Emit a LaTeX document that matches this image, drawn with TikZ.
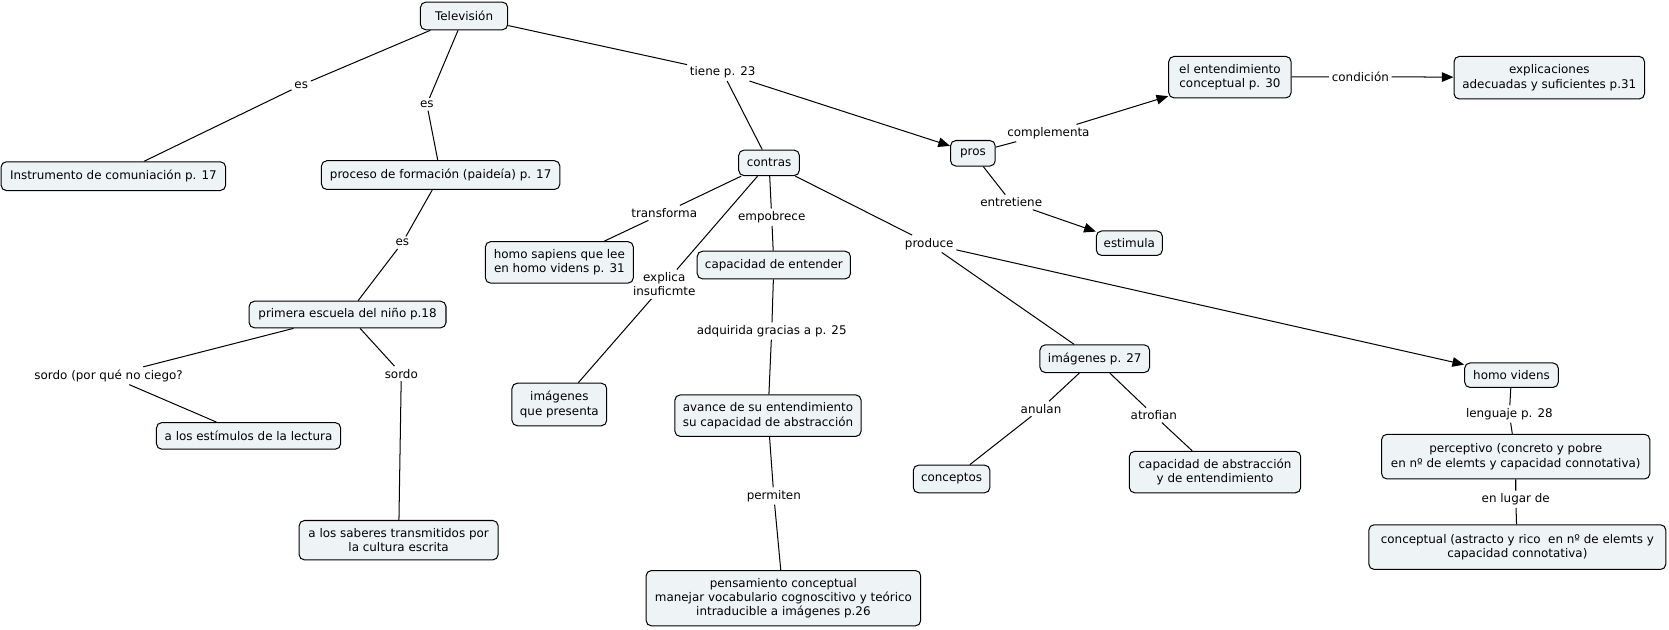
\documentclass[tikz,border=0pt]{standalone}
\usepackage{fontspec}
\setmainfont{DejaVu Sans}
\usetikzlibrary{arrows.meta}
\definecolor{boxfill}{RGB}{238,243,245}
\begin{document}
\begin{tikzpicture}[x=1pt,y=-1pt,
 concept/.style={draw=black, fill=boxfill, rounded corners=5pt, line width=0.95pt, align=center, inner xsep=4pt, inner ysep=0pt, font=\fontsize{11.2}{13.5}\selectfont},
 lbl/.style={align=center, inner sep=2.5pt, font=\fontsize{11.2}{13.5}\selectfont},
 link/.style={line width=0.95pt},
 arr/.style={line width=0.95pt, -{Triangle[length=11pt,width=9pt]}}
]
\useasboundingbox (0,0) rectangle (1568,591);
% concepts
\node[concept, minimum width=82pt, minimum height=26pt] (tv) at (436,15) {Televisión};
\node[concept, minimum width=211pt, minimum height=27pt] (inst) at (106.5,165.5) {Instrumento de comuniación p. 17};
\node[concept, minimum width=224pt, minimum height=27pt] (proc) at (414,164.5) {proceso de formación (paideía) p. 17};
\node[concept, minimum width=57pt, minimum height=24pt] (contras) at (722.5,153) {contras};
\node[concept, minimum width=42pt, minimum height=24pt] (pros) at (914,144) {pros};
\node[concept, minimum width=115pt, minimum height=39pt] (ent) at (1155.5,72.5) {el entendimiento\\conceptual p. 30};
\node[concept, minimum width=179pt, minimum height=40pt] (expl) at (1455.5,73) {explicaciones\\adecuadas y suficientes p.31};
\node[concept, minimum width=62pt, minimum height=23pt] (estim) at (1061,228.5) {estimula};
\node[concept, minimum width=139pt, minimum height=39pt] (homosap) at (525.5,246.5) {homo sapiens que lee\\en homo videns p. 31};
\node[concept, minimum width=144pt, minimum height=26pt] (capent) at (727,249) {capacidad de entender};
\node[concept, minimum width=185pt, minimum height=25pt] (primera) at (326.5,295.5) {primera escuela del niño p.18};
\node[concept, minimum width=89pt, minimum height=40pt] (imgpres) at (525.5,380) {imágenes\\que presenta};
\node[concept, minimum width=175pt, minimum height=39pt] (avance) at (721.5,390.5) {avance de su entendimiento\\su capacidad de abstracción};
\node[concept, minimum width=103pt, minimum height=26pt] (img27) at (1028.5,337) {imágenes p. 27};
\node[concept, minimum width=88pt, minimum height=23pt] (homovid) at (1420,352.5) {homo videns};
\node[concept, minimum width=173pt, minimum height=25pt] (estimulos) at (233.5,409.5) {a los estímulos de la lectura};
\node[concept, minimum width=72pt, minimum height=26pt] (concep) at (894,450) {conceptos};
\node[concept, minimum width=161pt, minimum height=39pt] (capabs) at (1141.5,443.5) {capacidad de abstracción\\y de entendimiento};
\node[concept, minimum width=252pt, minimum height=42pt] (percep) at (1424,429) {perceptivo (concreto y pobre\\en nº de elemts y capacidad connotativa)};
\node[concept, minimum width=187pt, minimum height=37pt] (saberes) at (374.5,507.5) {a los saberes transmitidos por\\la cultura escrita};
\node[concept, minimum width=279pt, minimum height=42pt] (conceptual) at (1425.5,514) {conceptual (astracto y rico\ \ en nº de elemts y\\capacidad connotativa)};
\node[concept, minimum width=258pt, minimum height=52pt] (pens) at (736,562) {pensamiento conceptual\\manejar vocabulario cognoscitivo y teórico\\intraducible a imágenes p.26};
% labels
\node[lbl] (les1) at (283,80) {es};
\node[lbl] (les2) at (401,98) {es};
\node[lbl] (ltiene) at (679,68) {tiene p. 23};
\node[lbl] (les3) at (378,228) {es};
\node[lbl] (lsordoa) at (102,353) {sordo (por qué no ciego?};
\node[lbl] (lsordob) at (377,351) {sordo};
\node[lbl] (ltransf) at (624,200) {transforma};
\node[lbl] (lempob) at (725,204) {empobrece};
\node[lbl] (lexpl) at (624,267) {explica\\insuficmte};
\node[lbl] (lprod) at (873,229) {produce};
\node[lbl] (ladq) at (725,311) {adquirida gracias a p. 25};
\node[lbl] (lperm) at (727,466) {permiten};
\node[lbl] (lcompl) at (985,125) {complementa};
\node[lbl] (lentr) at (950,190) {entretiene};
\node[lbl] (lcond) at (1278,72) {condición};
\node[lbl] (lanul) at (978,384) {anulan};
\node[lbl] (latro) at (1084,390) {atrofian};
\node[lbl] (lleng) at (1418,389) {lenguaje p. 28};
\node[lbl] (llugar) at (1424,469) {en lugar de};
% links
\draw[link] (tv) -- (les1) -- (inst);
\draw[link] (tv) -- (les2) -- (proc);
\draw[link] (tv) -- (ltiene);
\draw[link] (ltiene) -- (contras);
\draw[arr] (ltiene) -- (pros);
\draw[link] (proc) -- (les3) -- (primera);
\draw[link] (primera) -- (lsordoa) -- (estimulos);
\draw[link] (primera) -- (lsordob) -- (saberes);
\draw[link] (contras) -- (ltransf) -- (homosap);
\draw[link] (contras) -- (lempob) -- (capent);
\draw[link] (contras) -- (lexpl) -- (imgpres);
\draw[link] (contras) -- (lprod);
\draw[link] (lprod) -- (img27);
\draw[arr] (lprod) -- (homovid);
\draw[link] (capent) -- (ladq) -- (avance);
\draw[link] (avance) -- (lperm) -- (pens);
\draw[link] (pros) -- (lcompl);
\draw[arr] (lcompl) -- (ent);
\draw[link] (pros) -- (lentr);
\draw[arr] (lentr) -- (estim);
\draw[link] (ent) -- (lcond);
\draw[arr] (lcond) -- (expl);
\draw[link] (img27) -- (lanul) -- (concep);
\draw[link] (img27) -- (latro) -- (capabs);
\draw[link] (homovid) -- (lleng) -- (percep);
\draw[link] (percep) -- (llugar) -- (conceptual);
\end{tikzpicture}
\end{document}
